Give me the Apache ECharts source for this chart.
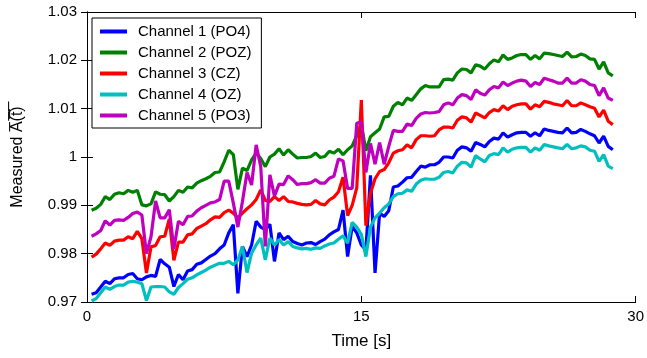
<!DOCTYPE html>
<html>
<head>
<meta charset="utf-8">
<title>Measured A(t) per channel</title>
<script src="https://cdn.jsdelivr.net/npm/echarts@6/dist/echarts.min.js"></script>
<style>
  html, body { margin: 0; padding: 0; background: #fff; }
  #chart { width: 647px; height: 358px; }
</style>
</head>
<body>
<div id="chart"></div>
<script>
// Measured A(t) for five EEG channels, sampled every 0.25 s

const timeS = [
  0.25, 0.5, 0.75, 1, 1.25, 1.5, 1.75, 2, 2.25, 2.5, 2.75, 3, 3.25, 3.5, 3.75, 4,
  4.25, 4.5, 4.75, 5, 5.25, 5.5, 5.75, 6, 6.25, 6.5, 6.75, 7, 7.25, 7.5, 7.75, 8,
  8.25, 8.5, 8.75, 9, 9.25, 9.5, 9.75, 10, 10.25, 10.5, 10.75, 11, 11.25, 11.5, 11.75, 12,
  12.25, 12.5, 12.75, 13, 13.25, 13.5, 13.75, 14, 14.25, 14.5, 14.75, 15, 15.25, 15.5, 15.75, 16,
  16.25, 16.5, 16.75, 17, 17.25, 17.5, 17.75, 18, 18.25, 18.5, 18.75, 19, 19.25, 19.5, 19.75, 20,
  20.25, 20.5, 20.75, 21, 21.25, 21.5, 21.75, 22, 22.25, 22.5, 22.75, 23, 23.25, 23.5, 23.75, 24,
  24.25, 24.5, 24.75, 25, 25.25, 25.5, 25.75, 26, 26.25, 26.5, 26.75, 27, 27.25, 27.5, 27.75, 28,
  28.25, 28.5, 28.75
];

const channelNames = [
  "Channel 1 (PO4)",
  "Channel 2 (POZ)",
  "Channel 3 (CZ)",
  "Channel 4 (OZ)",
  "Channel 5 (PO3)"
];

const channelColors = ["#0000ff", "#008000", "#ff0000", "#00bfbf", "#bf00bf"];

const ch1 = [
  0.9716, 0.9719, 0.9731, 0.9743, 0.9738, 0.9748, 0.9750, 0.9750, 0.9757, 0.9759,
  0.9748, 0.9746, 0.9752, 0.9755, 0.9753, 0.9788, 0.9779, 0.9772, 0.9732, 0.9757,
  0.9746, 0.9764, 0.9767, 0.9778, 0.9781, 0.9788, 0.9795, 0.9800, 0.9810, 0.9818,
  0.9843, 0.9860, 0.9718, 0.9815, 0.9794, 0.9818, 0.9867, 0.9855, 0.9850, 0.9861,
  0.9784, 0.9843, 0.9829, 0.9836, 0.9825, 0.9821, 0.9818, 0.9822, 0.9823, 0.9819,
  0.9825, 0.9830, 0.9839, 0.9845, 0.9850, 0.9890, 0.9794, 0.9856, 0.9843, 0.9818,
  0.9808, 0.9962, 0.9760, 0.9884, 0.9877, 0.9889, 0.9938, 0.9940, 0.9948, 0.9957,
  0.9958, 0.9970, 0.9981, 0.9979, 0.9984, 0.9984, 0.9989, 1.0000, 1.0000, 0.9998,
  1.0014, 1.0021, 1.0019, 1.0012, 1.0030, 1.0026, 1.0021, 1.0032, 1.0039, 1.0037,
  1.0050, 1.0041, 1.0046, 1.0050, 1.0051, 1.0051, 1.0043, 1.0050, 1.0044, 1.0058,
  1.0055, 1.0053, 1.0051, 1.0050, 1.0060, 1.0050, 1.0051, 1.0057, 1.0053, 1.0048,
  1.0044, 1.0029, 1.0043, 1.0022, 1.0015
];

const ch2 = [
  0.9890, 0.9894, 0.9902, 0.9918, 0.9912, 0.9923, 0.9926, 0.9924, 0.9931, 0.9927,
  0.9931, 0.9901, 0.9899, 0.9903, 0.9928, 0.9923, 0.9922, 0.9909, 0.9918, 0.9931,
  0.9927, 0.9938, 0.9936, 0.9946, 0.9951, 0.9955, 0.9960, 0.9968, 0.9969, 0.9990,
  1.0014, 1.0005, 0.9933, 0.9977, 0.9972, 0.9994, 1.0008, 0.9997, 0.9980, 1.0000,
  1.0006, 1.0017, 1.0004, 1.0015, 1.0006, 0.9998, 0.9999, 0.9999, 1.0001, 1.0008,
  0.9999, 1.0001, 1.0012, 1.0008, 1.0016, 1.0005, 1.0015, 1.0023, 1.0044, 1.0068,
  1.0013, 1.0042, 1.0050, 1.0058, 1.0083, 1.0084, 1.0105, 1.0113, 1.0108, 1.0122,
  1.0117, 1.0129, 1.0141, 1.0148, 1.0145, 1.0145, 1.0145, 1.0160, 1.0161, 1.0159,
  1.0174, 1.0182, 1.0181, 1.0174, 1.0191, 1.0188, 1.0182, 1.0193, 1.0201, 1.0197,
  1.0211, 1.0202, 1.0205, 1.0210, 1.0212, 1.0212, 1.0202, 1.0210, 1.0203, 1.0215,
  1.0214, 1.0212, 1.0210, 1.0208, 1.0217, 1.0207, 1.0208, 1.0213, 1.0210, 1.0203,
  1.0202, 1.0182, 1.0197, 1.0174, 1.0168
];

const ch3 = [
  0.9793, 0.9799, 0.9810, 0.9822, 0.9817, 0.9826, 0.9828, 0.9828, 0.9835, 0.9831,
  0.9846, 0.9831, 0.9760, 0.9814, 0.9817, 0.9835, 0.9836, 0.9872, 0.9786, 0.9824,
  0.9824, 0.9839, 0.9841, 0.9852, 0.9857, 0.9862, 0.9870, 0.9876, 0.9875, 0.9885,
  0.9890, 0.9884, 0.9874, 0.9884, 0.9893, 0.9901, 0.9912, 0.9932, 0.9910, 0.9908,
  0.9918, 0.9910, 0.9918, 0.9908, 0.9907, 0.9904, 0.9902, 0.9901, 0.9902, 0.9910,
  0.9903, 0.9901, 0.9911, 0.9917, 0.9928, 0.9958, 0.9879, 0.9900, 0.9936, 1.0118,
  0.9858, 0.9925, 0.9955, 0.9970, 0.9974, 0.9988, 1.0008, 1.0013, 1.0015, 1.0025,
  1.0019, 1.0036, 1.0044, 1.0044, 1.0043, 1.0044, 1.0056, 1.0062, 1.0062, 1.0060,
  1.0076, 1.0083, 1.0081, 1.0072, 1.0091, 1.0086, 1.0081, 1.0092, 1.0098, 1.0095,
  1.0106, 1.0098, 1.0105, 1.0108, 1.0110, 1.0110, 1.0099, 1.0108, 1.0104, 1.0115,
  1.0113, 1.0110, 1.0108, 1.0106, 1.0117, 1.0106, 1.0106, 1.0112, 1.0108, 1.0104,
  1.0101, 1.0083, 1.0097, 1.0074, 1.0067
];

const ch4 = [
  0.9702, 0.9707, 0.9719, 0.9731, 0.9726, 0.9732, 0.9735, 0.9735, 0.9741, 0.9743,
  0.9741, 0.9738, 0.9703, 0.9731, 0.9732, 0.9732, 0.9731, 0.9721, 0.9716, 0.9730,
  0.9738, 0.9747, 0.9750, 0.9756, 0.9761, 0.9766, 0.9772, 0.9776, 0.9780, 0.9780,
  0.9784, 0.9777, 0.9787, 0.9815, 0.9761, 0.9801, 0.9818, 0.9832, 0.9787, 0.9832,
  0.9818, 0.9829, 0.9818, 0.9825, 0.9815, 0.9812, 0.9810, 0.9811, 0.9809, 0.9812,
  0.9811, 0.9816, 0.9820, 0.9822, 0.9830, 0.9837, 0.9822, 0.9865, 0.9855, 0.9840,
  0.9794, 0.9855, 0.9874, 0.9884, 0.9895, 0.9903, 0.9918, 0.9924, 0.9925, 0.9932,
  0.9929, 0.9944, 0.9952, 0.9955, 0.9954, 0.9954, 0.9958, 0.9968, 0.9970, 0.9967,
  0.9981, 0.9989, 0.9988, 0.9979, 1.0003, 0.9996, 0.9990, 1.0003, 1.0007, 1.0005,
  1.0019, 1.0010, 1.0016, 1.0019, 1.0020, 1.0020, 1.0010, 1.0019, 1.0014, 1.0026,
  1.0023, 1.0021, 1.0019, 1.0017, 1.0026, 1.0017, 1.0019, 1.0023, 1.0021, 1.0014,
  1.0012, 0.9991, 1.0005, 0.9981, 0.9976
];

const ch5 = [
  0.9836, 0.9841, 0.9848, 0.9868, 0.9859, 0.9869, 0.9870, 0.9869, 0.9875, 0.9883,
  0.9886, 0.9880, 0.9800, 0.9835, 0.9909, 0.9874, 0.9874, 0.9891, 0.9810, 0.9867,
  0.9860, 0.9877, 0.9878, 0.9888, 0.9895, 0.9900, 0.9905, 0.9907, 0.9912, 0.9950,
  0.9950, 0.9905, 0.9855, 0.9908, 0.9968, 0.9942, 1.0025, 0.9980, 0.9815, 0.9963,
  0.9919, 0.9944, 0.9943, 0.9961, 0.9953, 0.9943, 0.9945, 0.9945, 0.9947, 0.9953,
  0.9946, 0.9946, 0.9956, 0.9960, 0.9996, 0.9992, 0.9935, 0.9935, 1.0070, 1.0073,
  0.9968, 1.0028, 0.9985, 1.0030, 0.9985, 1.0022, 1.0055, 1.0053, 1.0053, 1.0068,
  1.0065, 1.0080, 1.0089, 1.0092, 1.0091, 1.0092, 1.0094, 1.0108, 1.0112, 1.0108,
  1.0122, 1.0129, 1.0127, 1.0119, 1.0139, 1.0132, 1.0128, 1.0139, 1.0146, 1.0143,
  1.0155, 1.0148, 1.0153, 1.0157, 1.0159, 1.0157, 1.0146, 1.0154, 1.0150, 1.0163,
  1.0160, 1.0157, 1.0153, 1.0153, 1.0163, 1.0153, 1.0153, 1.0160, 1.0157, 1.0150,
  1.0148, 1.0127, 1.0143, 1.0122, 1.0117
];

const xTicks = { min: 0, max: 30, interval: 15 };
const yTicks = { min: 0.97, max: 1.03, interval: 0.01 };

const FONT = "'Liberation Sans', Arial, sans-serif";
const channels = [ch1, ch2, ch3, ch4, ch5];

const chart = echarts.init(document.getElementById("chart"), null, { renderer: "canvas" });

// eje con marcas hacia dentro, como en la figura original
function boxAxis(extra) {
  return Object.assign({
    type: "value",
    axisLine: { show: true, lineStyle: { color: "#000", width: 1 } },
    axisTick: { show: true, inside: true, length: 6, lineStyle: { color: "#000" } },
    splitLine: { show: false },
    axisLabel: { show: false }
  }, extra);
}

const option = {
  animation: false,
  backgroundColor: "#fff",
  grid: { left: 87, right: 10, top: 12, bottom: 56 },
  legend: {
    orient: "vertical",
    left: 92,
    top: 18,
    padding: [6, 10, 5, 8],
    itemGap: 6,
    itemWidth: 27,
    itemHeight: 4,
    icon: "rect",
    backgroundColor: "#fff",
    borderColor: "#000",
    borderWidth: 1,
    borderRadius: 0,
    textStyle: { fontFamily: FONT, fontSize: 15, color: "#000", padding: [0, 0, 0, 6] },
    data: channelNames
  },
  xAxis: [
    boxAxis({
      min: xTicks.min, max: xTicks.max, interval: xTicks.interval,
      position: "bottom",
      name: "Time [s]",
      nameLocation: "middle",
      nameGap: 31,
      nameTextStyle: { fontFamily: FONT, fontSize: 17, color: "#000" },
      axisLabel: { show: true, fontFamily: FONT, fontSize: 15, color: "#000", margin: 7 }
    }),
    boxAxis({ min: xTicks.min, max: xTicks.max, interval: xTicks.interval, position: "top" })
  ],
  yAxis: [
    boxAxis({
      min: yTicks.min, max: yTicks.max, interval: yTicks.interval,
      position: "left",
      name: "Measured A\u0305(\u0305t\u0305)\u0305",
      nameLocation: "middle",
      nameGap: 61,
      nameTextStyle: { fontFamily: FONT, fontSize: 16, color: "#000" },
      axisLabel: {
        show: true, fontFamily: FONT, fontSize: 15, color: "#000", margin: 10,
        formatter: (v) => String(+v.toFixed(2))
      }
    }),
    boxAxis({ min: yTicks.min, max: yTicks.max, interval: yTicks.interval, position: "right" })
  ],
  series: channels.map((values, k) => ({
    name: channelNames[k],
    type: "line",
    xAxisIndex: 0,
    yAxisIndex: 0,
    showSymbol: false,
    symbol: "none",
    color: channelColors[k],
    lineStyle: { width: 3.2, color: channelColors[k] },
    data: timeS.map((t, i) => [t, values[i]])
  }))
};

chart.setOption(option);
</script>
</body>
</html>
